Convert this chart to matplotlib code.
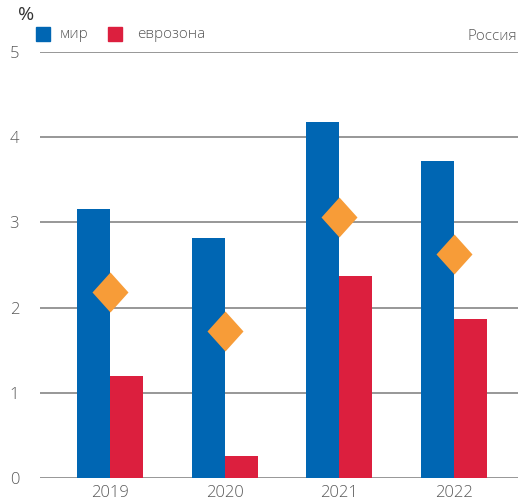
import matplotlib.pyplot as plt
import numpy as np

plt.rcParams['font.family'] = ['Open Sans', 'DejaVu Sans']
plt.rcParams['font.weight'] = 'light'

# ===== Данные =====
years = ['2019', '2020', '2021', '2022']
world = [3.16, 2.82, 4.18, 3.72]
eurozone = [1.20, 0.26, 2.37, 1.87]
russia = [2.18, 1.73, 3.06, 2.63]

BLUE = '#0066b3'
RED = '#dc1f3e'
ORANGE = '#f79c38'
TEXT = '#5a5a5a'
LINE = '#7a7a7a'

# ===== График =====
fig = plt.figure(figsize=(5.18, 5.03), dpi=100)
ax = fig.add_axes([40 / 518, 25 / 503, 478 / 518, 426 / 503])

x = np.arange(len(years))
w = 0.287

ax.bar(x - w / 2, world, width=w, color=BLUE, zorder=2)
ax.bar(x + w / 2, eurozone, width=w, color=RED, zorder=2)

# ромб чуть выше, чем шире
diamond = [(0, 1), (0.9, 0), (0, -1), (-0.9, 0), (0, 1)]
ax.plot(x, russia, linestyle='none', marker=diamond, markersize=28.8,
        color=ORANGE, markeredgewidth=0, zorder=3)

ax.set_xlim(-0.61, 3.557)
ax.set_ylim(0, 5)

for v in range(6):
    ax.axhline(v, color=LINE, linewidth=1.1, zorder=1)

for s in ax.spines.values():
    s.set_visible(False)

ax.set_yticks(range(6))
ax.set_yticklabels([str(v) for v in range(6)])
ax.set_xticks(x)
ax.set_xticklabels(years)
ax.tick_params(length=0, colors=TEXT, labelsize=12)
ax.tick_params(axis='y', pad=15)
ax.tick_params(axis='x', pad=5)

# подписи и легенда
fig.text(18 / 518, 1 - 15 / 503, '%', fontsize=14, color='#333333',
         fontweight='normal', ha='left', va='center')

fig.patches.append(plt.Rectangle((36 / 518, 1 - 41 / 503), 14 / 518, 14 / 503,
                                 transform=fig.transFigure, color=BLUE))
fig.text(60 / 518, 1 - 34 / 503, 'мир', fontsize=11, color=TEXT,
         ha='left', va='center')
fig.patches.append(plt.Rectangle((108 / 518, 1 - 41 / 503), 14 / 518, 14 / 503,
                                 transform=fig.transFigure, color=RED))
fig.text(137 / 518, 1 - 34 / 503, 'еврозона', fontsize=11, color=TEXT,
         ha='left', va='center')
fig.text(517 / 518, 1 - 36 / 503, 'Россия', fontsize=11, color=TEXT,
         ha='right', va='center')

fig.savefig('out.png', dpi=100)
